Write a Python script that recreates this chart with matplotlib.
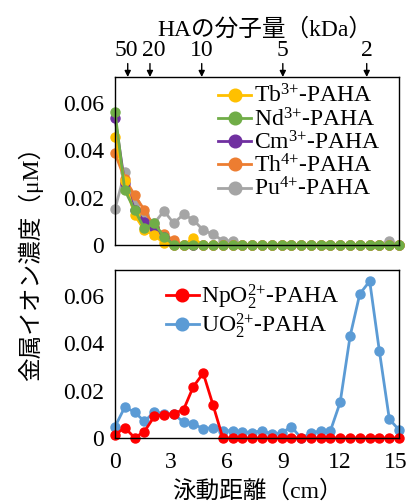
import numpy as np
import matplotlib
matplotlib.use('Agg')
import matplotlib.pyplot as plt

plt.rcParams['font.family'] = ['Liberation Serif', 'Noto Sans CJK JP']
plt.rcParams['mathtext.fontset'] = 'custom'
plt.rcParams['mathtext.rm'] = 'Liberation Serif'
plt.rcParams['mathtext.it'] = 'Liberation Serif'

# migration distance (cm)
distance = [0.0, 0.52, 1.05, 1.57, 2.1, 2.62, 3.14, 3.67, 4.19, 4.72,
            5.24, 5.77, 6.29, 6.81, 7.34, 7.86, 8.39, 8.91, 9.43, 9.96,
            10.48, 11.0, 11.53, 12.05, 12.58, 13.1, 13.63, 14.15, 14.68, 15.2]

# top panel (uM)
tb = [0.0458, 0.027, 0.0127, 0.0063, 0.0042, 0.0007, 0, 0, 0.0028, 0,
      0, 0, 0, 0, 0, 0, 0, 0, 0, 0, 0, 0, 0, 0, 0, 0, 0, 0, 0, 0]
nd = [0.0563, 0.0232, 0.0148, 0.007, 0.0092, 0.0035, 0, 0, 0, 0,
      0, 0, 0, 0, 0, 0, 0, 0, 0, 0, 0, 0, 0, 0, 0, 0, 0, 0, 0, 0]
cm = [0.0538, 0.026, 0.015, 0.0099, 0.007, 0.0035, 0, 0, 0, 0,
      0, 0, 0, 0, 0, 0, 0, 0, 0, 0, 0, 0, 0, 0, 0, 0, 0, 0, 0, 0]
th = [0.0387, 0.028, 0.0211, 0.0148, 0.0077, 0.0045, 0.0021, 0, 0, 0,
      0, 0, 0, 0, 0, 0, 0, 0, 0, 0, 0, 0, 0, 0, 0, 0, 0, 0, 0, 0]
pu = [0.0152, 0.0307, 0.0176, 0.0127, 0.0092, 0.0144, 0.0092, 0.013, 0.0106, 0.0063,
      0.0046, 0.0018, 0.0018, 0, 0, 0, 0, 0, 0, 0,
      0, 0, 0, 0, 0, 0, 0, 0, 0.0018, 0]

# bottom panel (uM)
npo2 = [0.0013, 0.0044, 0.0001, 0.0027, 0.0091, 0.0099, 0.0103, 0.012, 0.0217, 0.0274,
        0.0141, 0, 0, 0, 0, 0, 0, 0, 0, 0, 0, 0, 0, 0, 0, 0, 0, 0, 0, 0]
uo2 = [0.0048, 0.013, 0.011, 0.007, 0.011, 0.0103, 0.0101, 0.0067, 0.006, 0.0039,
       0.0044, 0.0031, 0.0031, 0.0027, 0.0023, 0.0031, 0.0017, 0.002, 0.0048, 0.0,
       0.002, 0.0031, 0.0031, 0.0151, 0.043, 0.0609, 0.0663, 0.0366, 0.008, 0.0034]

# HA molecular weight marks (kDa), arrow positions and label positions (cm)
kda_labels = ['50', '20', '10', '5', '2']
kda_pos = [0.68, 1.87, 4.64, 8.98, 13.47]
kda_label_pos = [0.59, 2.06, 4.64, 8.98, 13.47]

fs = 17
ms = 6.5
lw = 2

fig = plt.figure(figsize=(4.13, 5.03), dpi=100)
ax1 = fig.add_axes([0.2785, 0.5129, 0.6877, 0.334])
ax2 = fig.add_axes([0.2785, 0.1292, 0.6877, 0.334])

# draw order: green ends up on top
l_pu, = ax1.plot(distance, pu, '-o', color='#A5A5A5', lw=lw, ms=ms, label='Pu$^{4{+}}$-PAHA')
l_th, = ax1.plot(distance, th, '-o', color='#ED7D31', lw=lw, ms=ms, label='Th$^{4{+}}$-PAHA')
l_cm, = ax1.plot(distance, cm, '-o', color='#7030A0', lw=lw, ms=ms, label='Cm$^{3{+}}$-PAHA')
l_tb, = ax1.plot(distance, tb, '-o', color='#FFC000', lw=lw, ms=ms, label='Tb$^{3{+}}$-PAHA')
l_nd, = ax1.plot(distance, nd, '-o', color='#70AD47', lw=lw, ms=ms, label='Nd$^{3{+}}$-PAHA')
ax1.legend(handles=[l_tb, l_nd, l_cm, l_th, l_pu], loc='upper left',
           bbox_to_anchor=(0.33, 1.01), frameon=False, fontsize=fs,
           handlelength=1.4, handletextpad=0.1, labelspacing=0.0,
           borderaxespad=0.0, markerscale=1.4)

l_uo2, = ax2.plot(distance, uo2, '-o', color='#5B9BD5', lw=lw, ms=ms, label='UO$_2^{2{+}}$-PAHA')
l_np, = ax2.plot(distance, npo2, '-o', color='#FF0000', lw=lw, ms=ms, label='NpO$_2^{2{+}}$-PAHA')
ax2.legend(handles=[l_np, l_uo2], loc='upper left', bbox_to_anchor=(0.145, 0.985),
           frameon=False, fontsize=fs, handlelength=1.4, handletextpad=0.1,
           labelspacing=0.0, borderaxespad=0.0, markerscale=1.4)

for ax in [ax1, ax2]:
    ax.set_xlim(0, 15.2)
    ax.set_ylim(0, 0.071)
    ax.set_yticks([0, 0.02, 0.04, 0.06])
    ax.set_yticklabels(['0', '0.02', '0.04', '0.06'], fontsize=fs)
    ax.tick_params(length=0, pad=8)
    for s in ax.spines.values():
        s.set_linewidth(1.0)
        s.set_color('black')
    for line in ax.get_lines():
        line.set_clip_on(False)

ax1.set_xticks([])
ax2.set_xticks([0, 3, 6, 9, 12, 15])
ax2.set_xticklabels(['0', '3', '6', '9', '12', '15'], fontsize=fs)
ax2.tick_params(axis='x', pad=10)
ax2.set_xlabel('泳動距離（cm）', fontsize=fs, labelpad=5)

# top molecular weight arrows
trans = ax1.get_xaxis_transform()
for lab, x, xl in zip(kda_labels, kda_pos, kda_label_pos):
    ax1.annotate('', xy=(x, 1.0), xycoords=trans, xytext=(x, 1.08), textcoords=trans,
                 arrowprops=dict(arrowstyle='-|>', color='black', lw=1,
                                 mutation_scale=9, shrinkA=0, shrinkB=0))
    ax1.text(xl, 1.16, lab, transform=trans, ha='center', va='center', fontsize=fs)
ax1.text(8.0, 1.285, 'HAの分子量（kDa）', transform=trans, ha='center', va='center', fontsize=fs)

fig.text(0.073, 0.487, '金属イオン濃度（μM）', rotation=90, ha='center', va='center', fontsize=fs)

fig.savefig('out.png', dpi=100)
